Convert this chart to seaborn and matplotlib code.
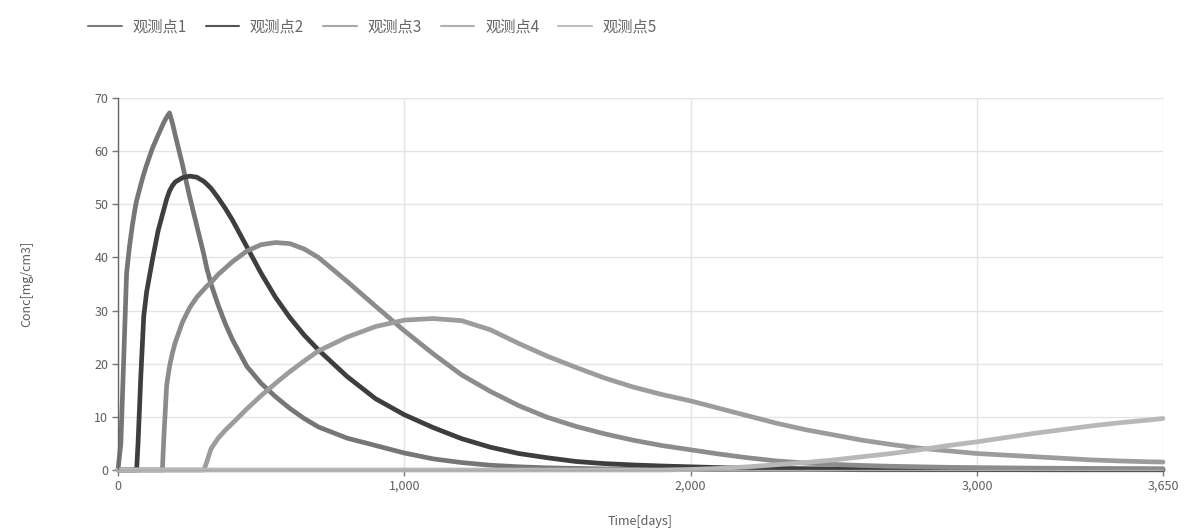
import matplotlib
matplotlib.use("Agg")
import matplotlib.pyplot as plt
import seaborn as sns
import pandas as pd
from matplotlib.lines import Line2D

# ---------------- data ----------------
t_days = [0, 10, 20, 30, 40, 50, 60, 65, 70, 80, 90, 100, 120, 140, 155, 160, 170, 180, 190, 200,
          225, 250, 275, 300, 310, 325, 350, 375, 400, 450, 500, 550, 600, 650, 700, 800, 900,
          1000, 1100, 1200, 1300, 1400, 1500, 1600, 1700, 1800, 1900, 2000, 2100, 2200, 2300,
          2400, 2500, 2600, 2700, 2800, 2900, 3000, 3100, 3200, 3300, 3400, 3500, 3600, 3650]

obs1 = [0, 5, 21, 37, 42, 46, 49.3, 50.7, 51.7, 53.8, 55.7, 57.4, 60.5, 63, 64.8, 65.4, 66.4, 67.2, 65.3, 63,
        57.5, 51.5, 46, 40.5, 38, 35, 31, 27.5, 24.5, 19.5, 16.3, 13.8, 11.6, 9.7, 8.1, 6.0, 4.6,
        3.2, 2.1, 1.4, 0.9, 0.6, 0.4, 0.3, 0.2, 0.15, 0.1, 0.1, 0.1, 0.1, 0.1,
        0.1, 0.1, 0.05, 0.05, 0.05, 0.05, 0.05, 0.05, 0.05, 0.05, 0.05, 0.05, 0.05, 0.05]

obs2 = [0, 0, 0, 0, 0, 0, 0, 0, 5, 18, 29, 33.5, 39.5, 45, 48, 49, 51, 52.5, 53.5, 54.2,
        55.0, 55.3, 55.1, 54.3, 53.8, 53.0, 51.2, 49.2, 47, 42, 37, 32.5, 28.7, 25.4, 22.6, 17.6, 13.4,
        10.4, 8.0, 5.9, 4.3, 3.1, 2.3, 1.6, 1.2, 0.95, 0.75, 0.6, 0.45, 0.35, 0.3,
        0.25, 0.2, 0.15, 0.12, 0.1, 0.1, 0.08, 0.07, 0.06, 0.05, 0.05, 0.05, 0.05, 0.05]

obs3 = [0, 0, 0, 0, 0, 0, 0, 0, 0, 0, 0, 0, 0, 0, 0, 6, 16, 19.5, 22, 24,
        27.8, 30.5, 32.5, 34, 34.6, 35.3, 36.8, 38, 39.2, 41.2, 42.4, 42.8, 42.6, 41.6, 40.0, 35.5, 30.8,
        26.2, 21.9, 17.9, 14.8, 12.1, 9.9, 8.2, 6.8, 5.6, 4.6, 3.8, 3.0, 2.3, 1.7,
        1.3, 1.05, 0.85, 0.7, 0.6, 0.5, 0.45, 0.4, 0.35, 0.32, 0.3, 0.28, 0.26, 0.25]

obs4 = [0, 0, 0, 0, 0, 0, 0, 0, 0, 0, 0, 0, 0, 0, 0, 0, 0, 0, 0, 0,
        0, 0, 0, 0, 1.5, 4, 6, 7.5, 8.8, 11.5, 14, 16.3, 18.5, 20.5, 22.4, 25.0, 27.0,
        28.2, 28.5, 28.1, 26.4, 23.8, 21.4, 19.3, 17.3, 15.6, 14.2, 13.0, 11.6, 10.2, 8.8,
        7.6, 6.6, 5.6, 4.8, 4.1, 3.6, 3.1, 2.8, 2.5, 2.2, 1.9, 1.7, 1.55, 1.5]

obs5 = [0, 0, 0, 0, 0, 0, 0, 0, 0, 0, 0, 0, 0, 0, 0, 0, 0, 0, 0, 0,
        0, 0, 0, 0, 0, 0, 0, 0, 0, 0, 0, 0, 0, 0, 0, 0, 0,
        0, 0, 0, 0, 0, 0, 0, 0, 0, 0, 0.1, 0.3, 0.6, 1.0,
        1.4, 1.9, 2.5, 3.1, 3.8, 4.6, 5.3, 6.1, 6.9, 7.6, 8.3, 8.9, 9.4, 9.7]

series_names = ["观测点1", "观测点2", "观测点3", "观测点4", "观测点5"]
series_values = [obs1, obs2, obs3, obs4, obs5]
x_ticks = [0, 1000, 2000, 3000, 3650]
x_tick_labels = ["0", "1,000", "2,000", "3,000", "3,650"]
y_ticks = [0, 10, 20, 30, 40, 50, 60, 70]

colors = ["#767676", "#3e3e3e", "#8c8c8c", "#9c9c9c", "#b8b8b8"]
legend_colors = ["#7a7a7a", "#555555", "#a8a8a8", "#b0b0b0", "#bdbdbd"]

rows = []
for name, vals in zip(series_names, series_values):
    for t, v in zip(t_days, vals):
        rows.append({"t": t, "c": v, "series": name})
df = pd.DataFrame(rows)

# ---------------- plot ----------------
sns.set_theme(style="white")
plt.rcParams["font.family"] = ["Noto Sans CJK SC", "DejaVu Sans"]

W, H = 1191, 529
fig = plt.figure(figsize=(W / 100, H / 100), dpi=100)
ax = fig.add_axes([118 / W, 1 - 470 / H, (1163 - 118) / W, (470 - 98) / H])

sns.lineplot(data=df, x="t", y="c", hue="series", hue_order=series_names,
             palette=dict(zip(series_names, colors)), linewidth=3.4,
             legend=False, ax=ax, sort=True, estimator=None)
for ln in ax.lines:
    ln.set_clip_on(False)
    ln.set_solid_joinstyle("round")
    ln.set_solid_capstyle("round")

ax.set_xlim(0, 3650)
ax.set_ylim(0, 70)
ax.set_xticks(x_ticks)
ax.set_xticklabels(x_tick_labels)
ax.set_yticks(y_ticks)

ax.grid(True, color="#e4e4e4", linewidth=1)
ax.set_axisbelow(True)
for s in ["top", "right"]:
    ax.spines[s].set_visible(False)
ax.spines["left"].set_color("#666666")
ax.spines["left"].set_linewidth(1)
ax.spines["bottom"].set_color("#aaaaaa")
ax.spines["bottom"].set_linewidth(1)
ax.tick_params(axis="both", which="both", length=4, width=1, color="#777777",
               labelcolor="#5e5e5e", labelsize=9, pad=3, left=True, bottom=True)

ax.set_xlabel("Time[days]", fontsize=9, color="#5e5e5e", labelpad=16)
ax.set_ylabel("Conc[mg/cm3]", fontsize=9, color="#5e5e5e", labelpad=44)

handles = [Line2D([0], [0], color=c, lw=1.5) for c in legend_colors]
fig.legend(handles, series_names, loc="center left", bbox_to_anchor=(88 / W, 1 - 27 / H),
           ncol=5, frameon=False, fontsize=11, handlelength=2.2, handletextpad=0.7,
           columnspacing=1.25, borderpad=0, borderaxespad=0, labelcolor="#666666")

fig.savefig("out.png", dpi=100, facecolor="white")
